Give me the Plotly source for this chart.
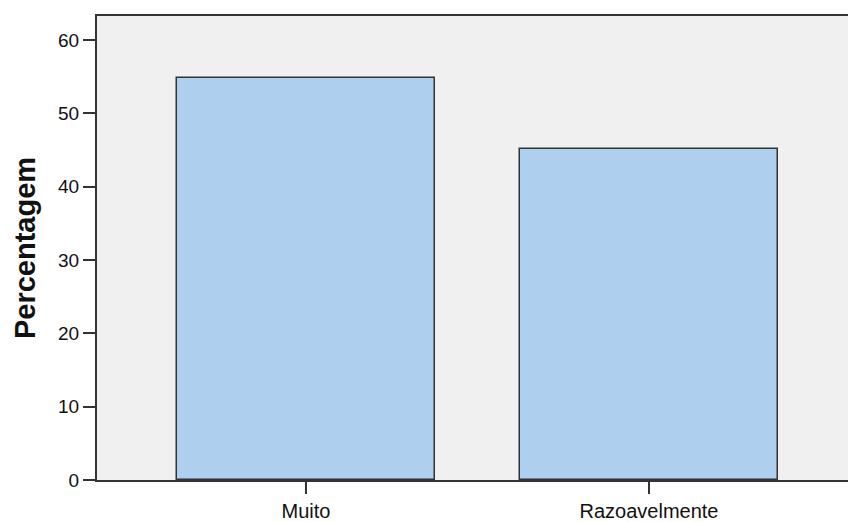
import plotly.graph_objects as go

categories = ["Muito", "Razoavelmente"]
values = [54.9, 45.1]
y_ticks = [0, 10, 20, 30, 40, 50, 60]

fig = go.Figure(go.Bar(
    x=categories, y=values, width=0.75,
    marker=dict(color="#aecfee", line=dict(color="#333333", width=1.5)),
))

fig.update_layout(
    width=848, height=522,
    margin=dict(l=97, r=0, t=16, b=39),
    paper_bgcolor="white", plot_bgcolor="#f0f0f0",
    font=dict(family="Liberation Sans, Arial, sans-serif", size=20, color="#111111"),
    showlegend=False,
    bargap=0,
)
fig.update_xaxes(
    range=[-0.609, 1.58], showgrid=False, zeroline=False,
    showline=True, linecolor="#333333", linewidth=2, mirror=True,
    ticks="outside", ticklen=12, tickcolor="#333333", tickwidth=2,
    tickfont=dict(size=20),
)
fig.update_yaxes(
    range=[0, 63.3], tickvals=y_ticks, showgrid=False, zeroline=False,
    showline=True, linecolor="#333333", linewidth=2,
    ticks="outside", ticklen=12, tickcolor="#333333", tickwidth=2,
    tickfont=dict(size=19),
    title=dict(text="<b>Percentagem</b>", font=dict(size=29), standoff=14),
)

fig.write_html(
    "out.html",
    config={"displayModeBar": False},
    post_script="document.body.style.margin='0';document.body.style.overflow='hidden';",
)
